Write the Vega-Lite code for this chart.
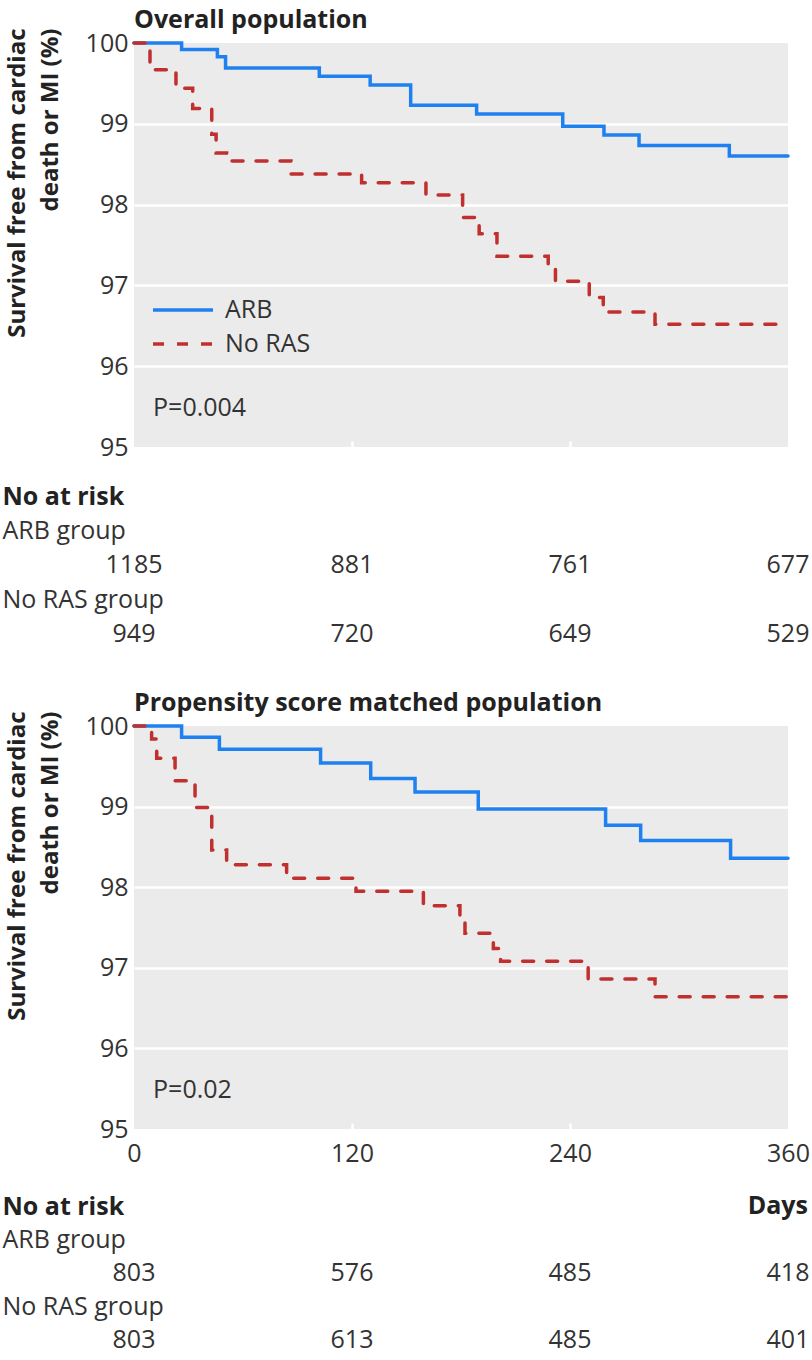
{
  "$schema": "https://vega.github.io/schema/vega-lite/v6.json",
  "background": "white",
  "padding": {"left": 2, "top": 8, "right": 0, "bottom": 12},
  "spacing": 0,
  "config": {
    "font": "Open Sans",
    "view": {"stroke": null},
    "title": {"fontSize": 25, "fontWeight": "bold", "color": "#222222", "anchor": "start", "frame": "group", "offset": -5}
  },
  "vconcat": [
    {
      "width": 654,
      "height": 404,
      "title": {"text": "Overall population"},
      "view": {"fill": "#ebebeb", "stroke": null},
      "resolve": {"scale": {"color": "independent", "strokeDash": "independent"}},
      "layer": [
        {
          "data": {"values": [
            {"group": "ARB", "day": 0, "surv": 100},
            {"group": "ARB", "day": 26.2, "surv": 99.92},
            {"group": "ARB", "day": 45.9, "surv": 99.83},
            {"group": "ARB", "day": 50.4, "surv": 99.69},
            {"group": "ARB", "day": 102, "surv": 99.59},
            {"group": "ARB", "day": 130, "surv": 99.48},
            {"group": "ARB", "day": 152.3, "surv": 99.23},
            {"group": "ARB", "day": 188.6, "surv": 99.12},
            {"group": "ARB", "day": 236, "surv": 98.97},
            {"group": "ARB", "day": 258.7, "surv": 98.86},
            {"group": "ARB", "day": 278, "surv": 98.73},
            {"group": "ARB", "day": 327.7, "surv": 98.6},
            {"group": "ARB", "day": 360, "surv": 98.6},
            {"group": "No RAS", "day": 0, "surv": 100},
            {"group": "No RAS", "day": 8.8, "surv": 99.67},
            {"group": "No RAS", "day": 23.1, "surv": 99.44},
            {"group": "No RAS", "day": 32.3, "surv": 99.19},
            {"group": "No RAS", "day": 42.8, "surv": 98.87},
            {"group": "No RAS", "day": 45.2, "surv": 98.64},
            {"group": "No RAS", "day": 51, "surv": 98.54},
            {"group": "No RAS", "day": 86.4, "surv": 98.38},
            {"group": "No RAS", "day": 125.3, "surv": 98.27},
            {"group": "No RAS", "day": 160.7, "surv": 98.12},
            {"group": "No RAS", "day": 180.9, "surv": 97.84},
            {"group": "No RAS", "day": 190, "surv": 97.64},
            {"group": "No RAS", "day": 199.8, "surv": 97.36},
            {"group": "No RAS", "day": 228, "surv": 97.2},
            {"group": "No RAS", "day": 232, "surv": 97.05},
            {"group": "No RAS", "day": 250.6, "surv": 96.85},
            {"group": "No RAS", "day": 258.3, "surv": 96.67},
            {"group": "No RAS", "day": 286.8, "surv": 96.52},
            {"group": "No RAS", "day": 360, "surv": 96.52}
          ]},
          "mark": {"type": "line", "interpolate": "step-after", "strokeWidth": 3.5, "strokeCap": "round"},
          "encoding": {
            "x": {"field": "day", "type": "quantitative", "scale": {"domain": [0, 360], "nice": false},
              "axis": {"values": [120, 240], "labels": false, "title": null, "domain": false, "grid": false, "ticks": true, "tickColor": "white", "tickSize": -6, "tickWidth": 2.5}},
            "y": {"field": "surv", "type": "quantitative", "scale": {"domain": [95, 100], "nice": false, "zero": false},
              "axis": {"values": [95, 96, 97, 98, 99, 100], "format": "d", "title": ["Survival free from cardiac", "death or MI (%)"],
                "titleFontSize": 24, "titleFontWeight": "bold", "titleColor": "#222222", "titleAlign": "right", "titleBaseline": "bottom",
                "titleX": -105, "titleY": -15, "titleLineHeight": 33,
                "labelFontSize": 25, "labelColor": "#333333", "labelPadding": 6, "ticks": false, "domain": false,
                "gridColor": {"condition": {"test": "datum.value == 95 || datum.value == 100", "value": "transparent"}, "value": "white"},
                "gridWidth": 2.5}},
            "color": {"field": "group", "type": "nominal", "scale": {"domain": ["ARB", "No RAS"], "range": ["#1f80f0", "#c0302f"]},
              "legend": {"title": null, "orient": "none", "legendX": 32, "legendY": 250, "labelFontSize": 25, "labelColor": "#333333", "symbolType": "M-2,0H2", "symbolSize": 900, "symbolStrokeWidth": 3.5, "rowPadding": 4, "labelOffset": 25}},
            "strokeDash": {"field": "group", "type": "nominal", "scale": {"domain": ["ARB", "No RAS"], "range": [[1, 0], [11, 13]]},
              "legend": {"title": null, "orient": "none", "legendX": 32, "legendY": 250, "labelFontSize": 25, "labelColor": "#333333", "symbolType": "M-2,0H2", "symbolSize": 900, "symbolStrokeWidth": 3.5, "rowPadding": 4, "labelOffset": 25}}
          }
        },
        {
          "data": {"values": [{"label": "P=0.004"}]},
          "mark": {"type": "text", "align": "left", "baseline": "middle", "fontSize": 25, "color": "#333333"},
          "encoding": {
            "x": {"datum": 10.5, "type": "quantitative"},
            "y": {"datum": 95.48, "type": "quantitative"},
            "text": {"field": "label"}
          }
        }
      ]
    },
    {
      "width": 654,
      "height": 231,
      "data": {"values": [
        {"row": "ARB n", "day": 0, "n": 1185},
        {"row": "ARB n", "day": 120, "n": 881},
        {"row": "ARB n", "day": 240, "n": 761},
        {"row": "ARB n", "day": 360, "n": 677},
        {"row": "No RAS n", "day": 0, "n": 949},
        {"row": "No RAS n", "day": 120, "n": 720},
        {"row": "No RAS n", "day": 240, "n": 649},
        {"row": "No RAS n", "day": 360, "n": 529}
      ]},
      "mark": {"type": "text", "fontSize": 25, "color": "#333333", "baseline": "middle"},
      "encoding": {
        "x": {"field": "day", "type": "quantitative", "scale": {"domain": [0, 360], "nice": false}, "axis": null},
        "y": {"field": "row", "type": "ordinal",
          "scale": {"type": "point", "domain": ["No at risk", "ARB group", "ARB n", "No RAS group", "No RAS n"], "padding": 0, "range": [36, 174]},
          "axis": {"title": null, "domain": false, "ticks": false, "grid": false, "labelAlign": "left", "labelPadding": 132, "labelLimit": 0,
            "labelFontSize": 25, "labelColor": {"condition": {"test": "datum.value == 'No at risk'", "value": "#222222"}, "value": "#333333"},
            "labelFontWeight": {"condition": {"test": "datum.value == 'No at risk'", "value": "bold"}, "value": "normal"},
            "labelExpr": "(datum.value == 'ARB n' || datum.value == 'No RAS n') ? '' : datum.value"}},
        "text": {"field": "n"}
      }
    },
    {
      "width": 654,
      "height": 403,
      "title": {"text": "Propensity score matched population"},
      "view": {"fill": "#ebebeb", "stroke": null},
      "resolve": {"scale": {"color": "independent", "strokeDash": "independent"}},
      "layer": [
        {
          "data": {"values": [
            {"group": "ARB", "day": 0, "surv": 100},
            {"group": "ARB", "day": 26.2, "surv": 99.86},
            {"group": "ARB", "day": 47, "surv": 99.71},
            {"group": "ARB", "day": 102.7, "surv": 99.54},
            {"group": "ARB", "day": 130.3, "surv": 99.35},
            {"group": "ARB", "day": 154.7, "surv": 99.18},
            {"group": "ARB", "day": 189.5, "surv": 98.97},
            {"group": "ARB", "day": 259.6, "surv": 98.77},
            {"group": "ARB", "day": 278.9, "surv": 98.58},
            {"group": "ARB", "day": 328.4, "surv": 98.36},
            {"group": "ARB", "day": 360, "surv": 98.36},
            {"group": "No RAS", "day": 0, "surv": 100},
            {"group": "No RAS", "day": 9.7, "surv": 99.84},
            {"group": "No RAS", "day": 12.5, "surv": 99.6},
            {"group": "No RAS", "day": 22.6, "surv": 99.32},
            {"group": "No RAS", "day": 33.6, "surv": 98.99},
            {"group": "No RAS", "day": 42.8, "surv": 98.46},
            {"group": "No RAS", "day": 51, "surv": 98.28},
            {"group": "No RAS", "day": 84, "surv": 98.11},
            {"group": "No RAS", "day": 122.2, "surv": 97.95},
            {"group": "No RAS", "day": 159.3, "surv": 97.77},
            {"group": "No RAS", "day": 179.4, "surv": 97.63},
            {"group": "No RAS", "day": 182.2, "surv": 97.43},
            {"group": "No RAS", "day": 197.8, "surv": 97.24},
            {"group": "No RAS", "day": 201.8, "surv": 97.08},
            {"group": "No RAS", "day": 250, "surv": 96.86},
            {"group": "No RAS", "day": 286.8, "surv": 96.64},
            {"group": "No RAS", "day": 360, "surv": 96.64}
          ]},
          "mark": {"type": "line", "interpolate": "step-after", "strokeWidth": 3.5, "strokeCap": "round"},
          "encoding": {
            "x": {"field": "day", "type": "quantitative", "scale": {"domain": [0, 360], "nice": false},
              "axis": {"values": [0, 120, 240, 360], "labelFlush": false, "title": null, "domain": false, "grid": false, "ticks": true,
                "tickColor": {"condition": {"test": "datum.value == 0 || datum.value == 360", "value": "transparent"}, "value": "white"},
                "tickSize": -6, "tickWidth": 2.5, "labelFontSize": 25, "labelColor": "#333333", "labelPadding": 18}},
            "y": {"field": "surv", "type": "quantitative", "scale": {"domain": [95, 100], "nice": false, "zero": false},
              "axis": {"values": [95, 96, 97, 98, 99, 100], "format": "d", "title": ["Survival free from cardiac", "death or MI (%)"],
                "titleFontSize": 24, "titleFontWeight": "bold", "titleColor": "#222222", "titleAlign": "right", "titleBaseline": "bottom",
                "titleX": -105, "titleY": -15, "titleLineHeight": 33,
                "labelFontSize": 25, "labelColor": "#333333", "labelPadding": 6, "ticks": false, "domain": false,
                "gridColor": {"condition": {"test": "datum.value == 95 || datum.value == 100", "value": "transparent"}, "value": "white"},
                "gridWidth": 2.5}},
            "color": {"field": "group", "type": "nominal", "scale": {"domain": ["ARB", "No RAS"], "range": ["#1f80f0", "#c0302f"]}, "legend": null},
            "strokeDash": {"field": "group", "type": "nominal", "scale": {"domain": ["ARB", "No RAS"], "range": [[1, 0], [11, 13]]}, "legend": null}
          }
        },
        {
          "data": {"values": [{"label": "P=0.02"}]},
          "mark": {"type": "text", "align": "left", "baseline": "middle", "fontSize": 25, "color": "#333333"},
          "encoding": {
            "x": {"datum": 10.5, "type": "quantitative"},
            "y": {"datum": 95.48, "type": "quantitative"},
            "text": {"field": "label"}
          }
        }
      ]
    },
    {
      "width": 654,
      "height": 186,
      "layer": [
        {
          "data": {"values": [
            {"row": "ARB n", "day": 0, "n": 803},
            {"row": "ARB n", "day": 120, "n": 576},
            {"row": "ARB n", "day": 240, "n": 485},
            {"row": "ARB n", "day": 360, "n": 418},
            {"row": "No RAS n", "day": 0, "n": 803},
            {"row": "No RAS n", "day": 120, "n": 613},
            {"row": "No RAS n", "day": 240, "n": 485},
            {"row": "No RAS n", "day": 360, "n": 401}
          ]},
          "mark": {"type": "text", "fontSize": 25, "color": "#333333", "baseline": "middle"},
          "encoding": {
            "x": {"field": "day", "type": "quantitative", "scale": {"domain": [0, 360], "nice": false}, "axis": null},
            "y": {"field": "row", "type": "ordinal",
              "scale": {"type": "point", "domain": ["No at risk", "ARB group", "ARB n", "No RAS group", "No RAS n"], "padding": 0, "range": [40, 174]},
              "axis": {"title": null, "domain": false, "ticks": false, "grid": false, "labelAlign": "left", "labelPadding": 132, "labelLimit": 0,
                "labelFontSize": 25, "labelColor": {"condition": {"test": "datum.value == 'No at risk'", "value": "#222222"}, "value": "#333333"},
                "labelFontWeight": {"condition": {"test": "datum.value == 'No at risk'", "value": "bold"}, "value": "normal"},
                "labelExpr": "(datum.value == 'ARB n' || datum.value == 'No RAS n') ? '' : datum.value"}},
            "text": {"field": "n"}
          }
        },
        {
          "data": {"values": [{"label": "Days"}]},
          "mark": {"type": "text", "fontSize": 25, "fontWeight": "bold", "color": "#222222", "align": "right", "baseline": "middle", "dx": 20},
          "encoding": {
            "x": {"datum": 360, "type": "quantitative"},
            "y": {"datum": "No at risk", "type": "ordinal"},
            "text": {"field": "label"}
          }
        }
      ]
    }
  ]
}
